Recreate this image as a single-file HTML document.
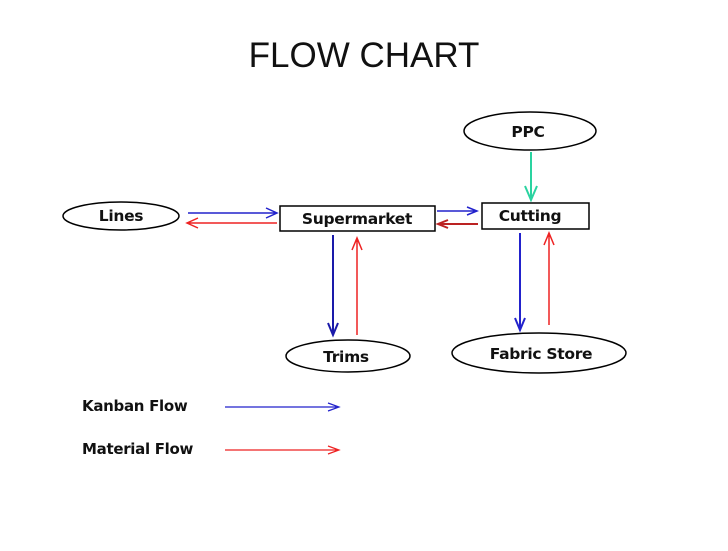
<!DOCTYPE html>
<html><head><style>
body{margin:0;background:#fff;}
svg text{font-family:"DejaVu Sans","Liberation Sans",sans-serif;font-weight:bold;fill:#111;}
</style></head><body>
<svg width="728" height="546" viewBox="0 0 728 546" xmlns="http://www.w3.org/2000/svg">
<text x="364" y="67" text-anchor="middle" style="font-family:'Liberation Sans',sans-serif;font-weight:normal;font-size:35px">FLOW CHART</text>
<g fill="#fff" stroke="#000" stroke-width="1.5">
<ellipse cx="530" cy="131" rx="66" ry="19"/>
<rect x="482" y="203" width="107" height="26"/>
<rect x="280" y="206" width="155" height="25"/>
<ellipse cx="121" cy="216" rx="58" ry="14"/>
<ellipse cx="348" cy="356" rx="62" ry="16"/>
<ellipse cx="539" cy="353" rx="87" ry="20"/>
</g>
<g font-size="15.5" text-anchor="middle" style="letter-spacing:-0.3px">
<text x="528" y="137">PPC</text>
<text x="530" y="221">Cutting</text>
<text x="357" y="224">Supermarket</text>
<text x="121" y="221">Lines</text>
<text x="346" y="362">Trims</text>
<text x="541" y="359">Fabric Store</text>
</g>
<g font-size="15" style="letter-spacing:-0.3px">
<text x="82" y="411">Kanban Flow</text>
<text x="82" y="454">Material Flow</text>
</g>
<g fill="none" stroke-width="1.5">
<path d="M531 152V200M525 186L531 200L537 186" stroke="#2ad3a0" stroke-width="2"/>
<path d="M188 213H277M266 208L277 213L266 218" stroke="#2222cc"/>
<path d="M277 223H187M198 218L187 223L198 228" stroke="#e22"/>
<path d="M437 211H477M467 207L477 211L467 215" stroke="#2222cc"/>
<path d="M478 224H438M448 220L438 224L448 228" stroke="#b22" stroke-width="2"/>
<path d="M333 235V335M328 323L333 335L338 323" stroke="#1a1aaa" stroke-width="2"/>
<path d="M357 335V238M352 250L357 238L362 250" stroke="#e22"/>
<path d="M520 233V330M515 318L520 330L525 318" stroke="#2222cc" stroke-width="2"/>
<path d="M549 325V233M544 245L549 233L554 245" stroke="#e22"/>
<path d="M225 407H339M328 403L339 407L328 411" stroke="#2222cc" stroke-width="1.2"/>
<path d="M225 450H339M328 446L339 450L328 454" stroke="#e22" stroke-width="1.2"/>
</g>
</svg>
</body></html>
